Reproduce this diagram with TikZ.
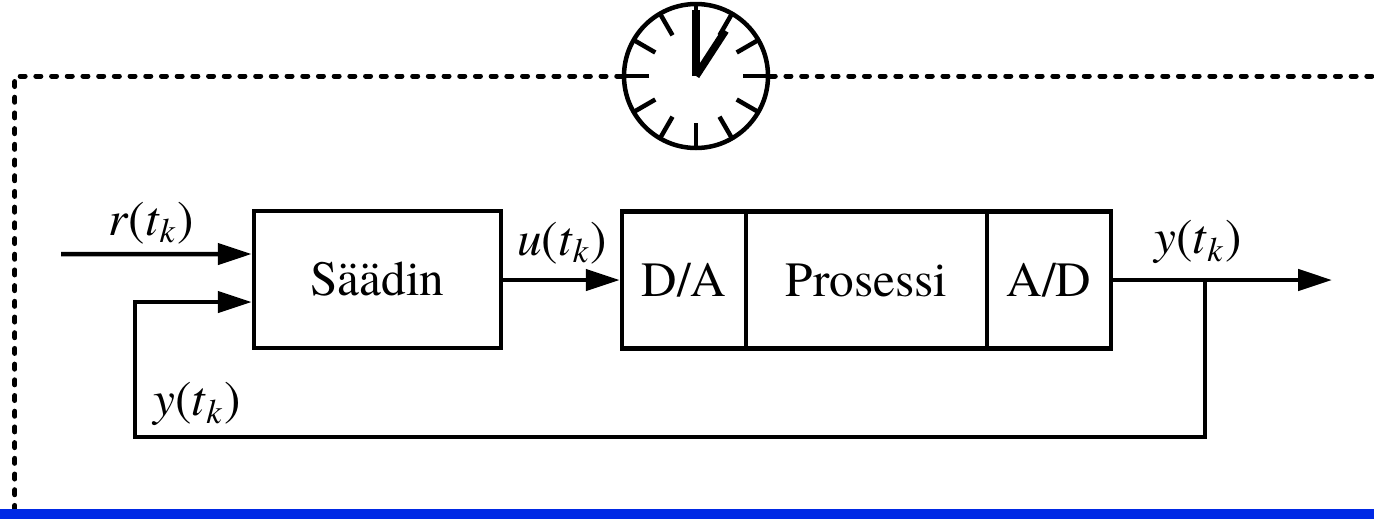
\documentclass[tikz,border=0pt]{standalone}
\usepackage{fontspec}
\setmainfont{TeX Gyre Termes}
\usetikzlibrary{arrows.meta}
\definecolor{barblue}{RGB}{0,41,229}
\newcommand{\sigl}[1]{\textit{#1}(\textit{t}\textsubscript{\textit{k}})}

\begin{document}
\begin{tikzpicture}[line width=0.045cm,
  block/.style={draw, minimum height=1.37cm, inner sep=0pt},
  sig/.style={-{Triangle[length=0.34cm,width=0.21cm]}},
  dotted line/.style={line cap=round, dash pattern=on 0.05cm off 0.107cm, line width=0.05cm},
  every node/.style={font=\fontsize{14}{16}\selectfont}]
\useasboundingbox (0,0) rectangle (13.74,5.19);

% 时钟
\node[circle, draw, minimum size=1.44cm, inner sep=0pt] (clock) at (6.96,4.43) {};
\foreach \a in {0,30,...,330}
  \draw (clock.center) ++(\a:0.47) -- ++(\a:0.25);
\draw[line width=0.08cm] (clock.center) -- ++(90:0.66);
\draw[line width=0.075cm] (clock.center) -- ++(57:0.54);

% 虚线框
\coordinate (dotR) at (13.74,4.43);
\coordinate (dotL) at (0.15,4.43);
\coordinate (dotB) at (0.15,0);
\draw[dotted line] (clock.east) -- (dotR);
\draw[dotted line] (clock.west) -- (dotL) -- (dotB);

% 方框
\node[block, minimum width=2.47cm] (saadin) at (3.775,2.395) {Säädin};
\node[block, minimum width=1.24cm] (da) at (6.84,2.39) {D/A};
\node[block, minimum width=2.41cm] (pros) at (8.665,2.39) {Prosessi};
\node[block, minimum width=1.24cm] (ad) at (10.49,2.39) {A/D};

% 连线
\coordinate (rin) at (0.61,2.65);
\coordinate (yout) at (13.32,2.39);
\coordinate (branch) at (12.05,2.39);
\coordinate (fbc) at (1.35,0.82);
\draw[sig] (rin) -- ([yshift=0.255cm]saadin.west);
\draw[sig] (saadin.east |- da.west) -- (da.west);
\draw[sig] (ad.east) -- (yout);
\draw[sig] (branch) |- (fbc) |- ([yshift=-0.225cm]saadin.west);

% 标签
\node at (1.51,2.96) {\sigl{r}};
\node at (5.62,2.76) {\sigl{u}};
\node at (11.98,2.77) {\sigl{y}};
\node at (1.97,1.15) {\sigl{y}};

% 底部蓝条
\fill[barblue] (0,0) rectangle (13.74,0.10);
\end{tikzpicture}
\end{document}
